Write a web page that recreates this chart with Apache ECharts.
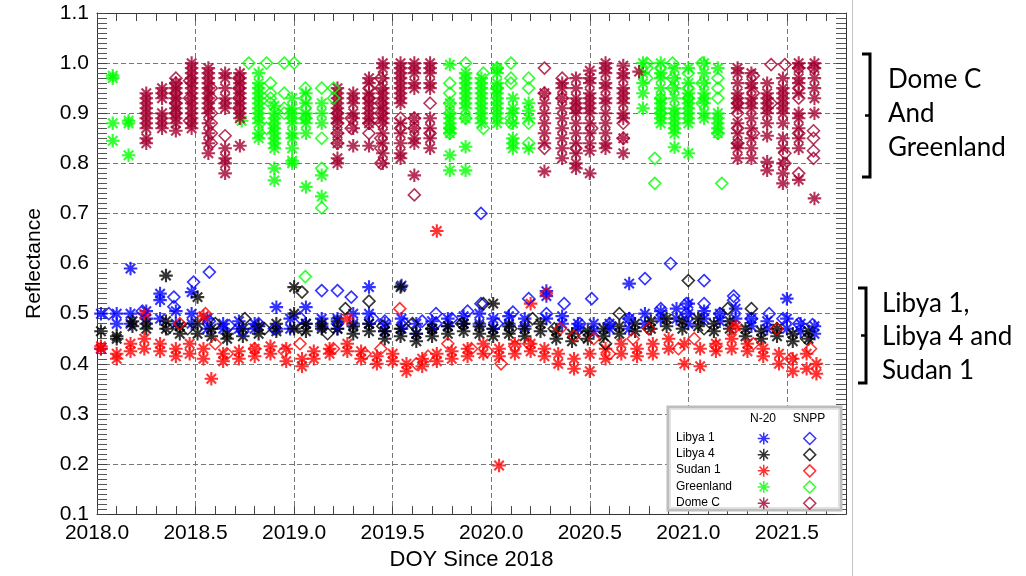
<!DOCTYPE html>
<html>
<head>
<meta charset="utf-8">
<script src="https://cdn.jsdelivr.net/npm/echarts@6/dist/echarts.min.js"></script>
<style>
  html, body { margin: 0; padding: 0; background: #ffffff; }
  #chart { width: 1026px; height: 576px; }
</style>
</head>
<body>
<div id="chart"></div>
<script>
// Each row: [year, reflectance, reflectance, ...] – one column of observations per date.

// ---- Libya 1 ----
const libya1N20 = [
  [2018.02, 0.43, 0.50], [2018.10, 0.50, 0.48], [2018.17, 0.59, 0.48, 0.50], [2018.25, 0.505, 0.49],
  [2018.32, 0.54, 0.527, 0.49], [2018.40, 0.505, 0.48], [2018.48, 0.543, 0.50, 0.48], [2018.56, 0.49, 0.47],
  [2018.64, 0.48, 0.47], [2018.72, 0.485, 0.47], [2018.80, 0.48, 0.47], [2018.91, 0.513, 0.47],
  [2018.98, 0.49, 0.47], [2019.06, 0.513, 0.48], [2019.14, 0.49, 0.475], [2019.22, 0.49, 0.47],
  [2019.30, 0.50, 0.48], [2019.38, 0.553, 0.50, 0.48], [2019.46, 0.48, 0.465], [2019.545, 0.556, 0.49, 0.47],
  [2019.62, 0.48, 0.46], [2019.70, 0.485, 0.47], [2019.78, 0.49, 0.475], [2019.86, 0.495, 0.48],
  [2019.94, 0.50, 0.48], [2020.01, 0.49, 0.47], [2020.09, 0.495, 0.48], [2020.17, 0.49, 0.475],
  [2020.28, 0.545, 0.535, 0.49], [2020.36, 0.495, 0.48], [2020.44, 0.48, 0.47], [2020.52, 0.48, 0.465],
  [2020.60, 0.48, 0.47], [2020.70, 0.56, 0.49, 0.47], [2020.78, 0.50, 0.48], [2020.86, 0.505, 0.49],
  [2020.94, 0.51, 0.49], [2021.00, 0.52, 0.50, 0.48], [2021.08, 0.505, 0.49], [2021.16, 0.50, 0.485],
  [2021.24, 0.51, 0.49], [2021.32, 0.49, 0.475], [2021.40, 0.485, 0.47], [2021.50, 0.53, 0.49, 0.47],
  [2021.57, 0.48, 0.465], [2021.64, 0.475, 0.46]
];
const libya1SNPP = [
  [2018.06, 0.50], [2018.23, 0.505], [2018.39, 0.533, 0.514], [2018.49, 0.563], [2018.57, 0.583, 0.485],
  [2018.67, 0.476], [2018.74, 0.465], [2018.82, 0.48], [2018.90, 0.47], [2019.03, 0.492],
  [2019.14, 0.546], [2019.22, 0.546, 0.48], [2019.29, 0.533], [2019.40, 0.49], [2019.46, 0.485],
  [2019.56, 0.48], [2019.65, 0.485], [2019.72, 0.50, 0.48], [2019.80, 0.49], [2019.88, 0.505],
  [2019.948, 0.52, 0.70], [2020.03, 0.48], [2020.11, 0.503], [2020.19, 0.53], [2020.28, 0.50],
  [2020.37, 0.52], [2020.45, 0.48], [2020.51, 0.53], [2020.60, 0.48], [2020.70, 0.49],
  [2020.78, 0.57], [2020.86, 0.51], [2020.91, 0.60], [2020.99, 0.52, 0.50], [2021.08, 0.566, 0.52],
  [2021.16, 0.50], [2021.23, 0.527, 0.535], [2021.32, 0.49], [2021.41, 0.50], [2021.48, 0.49],
  [2021.56, 0.48], [2021.63, 0.478]
];

// ---- Libya 4 ----
const libya4N20 = [
  [2018.02, 0.465], [2018.10, 0.455, 0.45], [2018.18, 0.475, 0.485], [2018.25, 0.48, 0.47],
  [2018.35, 0.576, 0.485, 0.47], [2018.42, 0.475, 0.46], [2018.51, 0.533, 0.48, 0.46], [2018.58, 0.47, 0.455],
  [2018.66, 0.46, 0.45], [2018.74, 0.47, 0.455], [2018.82, 0.475, 0.46], [2018.91, 0.48, 0.465],
  [2019.00, 0.553, 0.50, 0.47], [2019.06, 0.48, 0.465], [2019.14, 0.48, 0.47], [2019.22, 0.485, 0.47],
  [2019.30, 0.475, 0.46], [2019.38, 0.48, 0.465], [2019.46, 0.465, 0.45], [2019.54, 0.553, 0.47, 0.455],
  [2019.62, 0.46, 0.445], [2019.70, 0.47, 0.455], [2019.78, 0.475, 0.46], [2019.86, 0.48, 0.465],
  [2019.94, 0.475, 0.46], [2020.01, 0.52, 0.47, 0.455], [2020.09, 0.475, 0.46], [2020.17, 0.47, 0.455],
  [2020.25, 0.48, 0.465], [2020.33, 0.465, 0.45], [2020.41, 0.46, 0.445], [2020.49, 0.465, 0.45],
  [2020.57, 0.47, 0.455], [2020.65, 0.475, 0.46], [2020.73, 0.48, 0.465], [2020.81, 0.485, 0.47],
  [2020.89, 0.49, 0.475], [2020.97, 0.485, 0.47], [2021.05, 0.49, 0.475], [2021.13, 0.48, 0.465],
  [2021.21, 0.485, 0.47], [2021.29, 0.47, 0.455], [2021.37, 0.465, 0.45], [2021.45, 0.47, 0.455],
  [2021.53, 0.46, 0.445], [2021.61, 0.465, 0.45]
];
const libya4SNPP = [
  [2018.36, 0.47], [2018.46, 0.47], [2018.60, 0.48], [2018.75, 0.49], [2018.85, 0.47],
  [2019.04, 0.543, 0.47], [2019.17, 0.46], [2019.26, 0.51], [2019.38, 0.525], [2019.45, 0.475],
  [2019.60, 0.48], [2019.70, 0.47], [2019.85, 0.48], [2019.96, 0.52], [2020.10, 0.47],
  [2020.21, 0.49], [2020.32, 0.47], [2020.47, 0.455], [2020.58, 0.44], [2020.65, 0.50],
  [2020.80, 0.47], [2021.00, 0.566], [2021.08, 0.47], [2021.20, 0.51], [2021.32, 0.51],
  [2021.45, 0.47], [2021.60, 0.45]
];

// ---- Sudan 1 ----
const sudan1N20 = [
  [2018.02, 0.435, 0.43], [2018.10, 0.42, 0.41], [2018.17, 0.44, 0.425], [2018.24, 0.50, 0.45, 0.43],
  [2018.32, 0.44, 0.425], [2018.40, 0.43, 0.415], [2018.47, 0.44, 0.42], [2018.54, 0.495, 0.43, 0.41],
  [2018.58, 0.37], [2018.64, 0.42, 0.405], [2018.72, 0.425, 0.41], [2018.80, 0.43, 0.415],
  [2018.88, 0.435, 0.42], [2018.96, 0.43, 0.405], [2019.04, 0.41, 0.395], [2019.10, 0.425, 0.41],
  [2019.18, 0.43, 0.42], [2019.27, 0.49, 0.44, 0.425], [2019.34, 0.425, 0.41], [2019.42, 0.415, 0.40],
  [2019.50, 0.42, 0.405], [2019.57, 0.40, 0.385], [2019.65, 0.41, 0.395], [2019.724, 0.665, 0.42, 0.405],
  [2019.80, 0.425, 0.41], [2019.88, 0.43, 0.415], [2019.96, 0.44, 0.42], [2020.04, 0.197, 0.43, 0.415],
  [2020.12, 0.44, 0.42], [2020.20, 0.52, 0.44, 0.425], [2020.27, 0.43, 0.415], [2020.34, 0.42, 0.40],
  [2020.42, 0.41, 0.39], [2020.50, 0.42, 0.385], [2020.58, 0.43, 0.41], [2020.66, 0.44, 0.42],
  [2020.74, 0.43, 0.415], [2020.82, 0.44, 0.42], [2020.90, 0.45, 0.43], [2020.98, 0.44, 0.40],
  [2021.06, 0.43, 0.395], [2021.14, 0.44, 0.425], [2021.22, 0.45, 0.43], [2021.24, 0.475],
  [2021.30, 0.44, 0.425], [2021.38, 0.43, 0.415], [2021.46, 0.42, 0.40], [2021.53, 0.41, 0.385],
  [2021.60, 0.42, 0.39], [2021.65, 0.40, 0.38]
];
const sudan1SNPP = [
  [2018.42, 0.48], [2018.55, 0.50], [2018.60, 0.44], [2018.66, 0.42], [2018.80, 0.43],
  [2018.95, 0.425], [2019.03, 0.44], [2019.20, 0.43], [2019.36, 0.42], [2019.44, 0.43],
  [2019.536, 0.51], [2019.62, 0.40], [2019.68, 0.415], [2019.78, 0.44], [2019.90, 0.43],
  [2019.98, 0.425], [2020.05, 0.40], [2020.12, 0.435], [2020.19, 0.44], [2020.28, 0.54],
  [2020.35, 0.47], [2020.42, 0.455], [2020.52, 0.45], [2020.60, 0.42], [2020.72, 0.45],
  [2020.80, 0.47], [2020.95, 0.43], [2021.03, 0.45], [2021.14, 0.435], [2021.23, 0.47],
  [2021.33, 0.44], [2021.45, 0.47], [2021.52, 0.41], [2021.62, 0.43]
];

// ---- Greenland ----
const greenlandN20 = [
  [2018.08, 0.97, 0.975, 0.88, 0.845], [2018.16, 0.885, 0.88, 0.816], [2018.734, 0.885],
  [2018.82, 0.98, 0.96, 0.95, 0.94, 0.93, 0.92, 0.91, 0.90, 0.89, 0.88, 0.86, 0.85],
  [2018.90, 0.915, 0.90, 0.89, 0.88, 0.87, 0.86, 0.85, 0.84, 0.83, 0.79, 0.766],
  [2018.99, 0.93, 0.91, 0.90, 0.89, 0.88, 0.86, 0.85, 0.83, 0.805, 0.80],
  [2019.06, 0.94, 0.92, 0.90, 0.89, 0.88, 0.86, 0.753],
  [2019.14, 0.92, 0.90, 0.88, 0.776, 0.734],
  [2019.79, 0.997, 0.92, 0.90, 0.89, 0.88, 0.87, 0.86, 0.816, 0.786],
  [2019.87, 0.98, 0.97, 0.96, 0.95, 0.94, 0.93, 0.92, 0.91, 0.89, 0.833, 0.786],
  [2019.95, 0.97, 0.96, 0.95, 0.94, 0.93, 0.92, 0.91, 0.90, 0.89, 0.88],
  [2020.03, 0.99, 0.98, 0.96, 0.95, 0.94, 0.93, 0.92, 0.91, 0.90, 0.89, 0.88],
  [2020.11, 0.93, 0.91, 0.90, 0.88, 0.85, 0.84, 0.83],
  [2020.19, 0.92, 0.905, 0.89, 0.83],
  [2020.77, 1.0, 0.98, 0.96, 0.94, 0.91],
  [2020.86, 1.0, 0.98, 0.97, 0.95, 0.93, 0.92, 0.91, 0.90, 0.89, 0.88],
  [2020.93, 0.99, 0.97, 0.95, 0.93, 0.91, 0.90, 0.89, 0.88, 0.87, 0.86, 0.832],
  [2021.00, 0.99, 0.96, 0.94, 0.93, 0.92, 0.91, 0.90, 0.89, 0.88, 0.82],
  [2021.08, 1.0, 0.98, 0.96, 0.94, 0.93, 0.92, 0.90, 0.89],
  [2021.15, 0.99, 0.90, 0.89, 0.88, 0.87, 0.86]
];
const greenlandSNPP = [
  [2018.77, 1.0], [2018.86, 1.0, 0.87], [2018.88, 0.96, 0.94, 0.93, 0.92], [2018.95, 1.0, 0.94, 0.91, 0.90],
  [2019.00, 1.0], [2019.057, 0.95, 0.93, 0.91, 0.89, 0.574], [2019.14, 0.95, 0.85, 0.79, 0.711],
  [2019.20, 0.95, 0.93], [2019.79, 0.96, 0.94, 0.92, 0.90, 0.87, 0.86], [2019.87, 1.0, 0.89],
  [2019.96, 0.98, 0.87], [2020.03, 0.99, 0.95], [2020.10, 1.0, 0.97, 0.96, 0.89, 0.88],
  [2020.19, 0.97, 0.95, 0.88, 0.84], [2020.83, 0.81, 0.76], [2020.79, 1.0, 0.99, 0.97],
  [2020.86, 0.99, 0.93, 0.90], [2020.92, 1.0, 0.97, 0.95], [2021.00, 0.98, 0.95, 0.93],
  [2021.07, 1.0, 0.96, 0.92], [2021.15, 0.97, 0.95, 0.93, 0.86], [2021.17, 0.76]
];

// ---- Dome C ----
const domeCN20 = [
  [2018.25, 0.94, 0.93, 0.92, 0.91, 0.90, 0.89, 0.88, 0.87, 0.85, 0.84],
  [2018.33, 0.95, 0.94, 0.93, 0.90, 0.89, 0.88, 0.87],
  [2018.40, 0.96, 0.95, 0.94, 0.93, 0.92, 0.91, 0.90, 0.89, 0.88, 0.865],
  [2018.48, 1.0, 0.99, 0.98, 0.97, 0.96, 0.95, 0.94, 0.93, 0.92, 0.91, 0.90, 0.89, 0.88, 0.87],
  [2018.565, 0.99, 0.98, 0.97, 0.96, 0.95, 0.94, 0.93, 0.92, 0.91, 0.90, 0.88, 0.86, 0.84, 0.82],
  [2018.65, 0.98, 0.97, 0.95, 0.93, 0.92, 0.91, 0.83, 0.81, 0.80, 0.78],
  [2018.725, 0.98, 0.97, 0.96, 0.95, 0.94, 0.93, 0.92, 0.91, 0.90, 0.89, 0.835],
  [2019.22, 0.95, 0.94, 0.93, 0.92, 0.91, 0.90, 0.89, 0.88, 0.86, 0.84, 0.81, 0.80],
  [2019.30, 0.94, 0.93, 0.92, 0.90, 0.89, 0.87, 0.835],
  [2019.38, 0.97, 0.96, 0.94, 0.93, 0.92, 0.91, 0.90, 0.89, 0.88, 0.835],
  [2019.45, 1.0, 0.99, 0.97, 0.95, 0.94, 0.93, 0.92, 0.91, 0.90, 0.89, 0.88, 0.86, 0.84, 0.82, 0.80],
  [2019.54, 1.0, 0.99, 0.98, 0.97, 0.96, 0.95, 0.94, 0.93, 0.92, 0.88, 0.86, 0.84, 0.82, 0.81],
  [2019.61, 1.0, 0.99, 0.98, 0.96, 0.95, 0.89, 0.87, 0.85, 0.84, 0.776],
  [2019.69, 1.0, 0.99, 0.98, 0.96, 0.95, 0.89, 0.87, 0.85, 0.83],
  [2020.27, 0.94, 0.92, 0.90, 0.88, 0.86, 0.84, 0.784],
  [2020.36, 0.96, 0.95, 0.93, 0.91, 0.89, 0.87, 0.85, 0.83, 0.81],
  [2020.43, 0.97, 0.95, 0.93, 0.92, 0.91, 0.90, 0.88, 0.86, 0.84, 0.82, 0.80, 0.79],
  [2020.50, 0.985, 0.97, 0.96, 0.94, 0.93, 0.92, 0.91, 0.90, 0.88, 0.86, 0.84, 0.825, 0.78],
  [2020.58, 1.0, 0.99, 0.98, 0.96, 0.95, 0.93, 0.92, 0.90, 0.88, 0.86, 0.84, 0.83],
  [2020.67, 0.995, 0.98, 0.97, 0.95, 0.94, 0.93, 0.92, 0.90, 0.89, 0.85, 0.82],
  [2020.75, 0.983],
  [2021.25, 0.99, 0.98, 0.96, 0.94, 0.93, 0.92, 0.91, 0.88, 0.86, 0.84, 0.83, 0.81],
  [2021.32, 0.98, 0.96, 0.95, 0.93, 0.92, 0.91, 0.89, 0.87, 0.85, 0.83, 0.81],
  [2021.40, 0.96, 0.94, 0.93, 0.92, 0.91, 0.90, 0.88, 0.855, 0.803, 0.786],
  [2021.48, 0.97, 0.95, 0.94, 0.93, 0.92, 0.91, 0.90, 0.88, 0.85, 0.83, 0.80, 0.78, 0.76],
  [2021.56, 1.0, 0.99, 0.97, 0.96, 0.94, 0.90, 0.89, 0.87, 0.85, 0.83, 0.767],
  [2021.64, 1.0, 0.99, 0.97, 0.95, 0.93, 0.90, 0.73]
];
const domeCSNPP = [
  [2018.40, 0.97, 0.96, 0.94, 0.92, 0.90], [2018.47, 0.965, 0.93, 0.885],
  [2018.58, 0.95, 0.93, 0.90, 0.88, 0.86, 0.84], [2018.65, 0.855], [2018.72, 0.97, 0.95, 0.93, 0.91],
  [2019.22, 0.90, 0.88, 0.86, 0.84], [2019.29, 0.89, 0.87], [2019.38, 0.95, 0.93, 0.88, 0.86],
  [2019.44, 0.97, 0.95, 0.92, 0.90, 0.88, 0.85, 0.83, 0.80], [2019.54, 0.89, 0.87],
  [2019.61, 0.89, 0.87, 0.737], [2019.69, 0.92, 0.86], [2020.27, 0.99, 0.94, 0.83],
  [2020.36, 0.97, 0.93], [2020.43, 0.91, 0.83], [2020.51, 0.87], [2020.67, 0.88, 0.85],
  [2021.25, 0.92, 0.90, 0.87, 0.84], [2021.33, 0.975, 0.94, 0.86], [2021.42, 0.997, 0.92],
  [2021.49, 0.997, 0.82, 0.80], [2021.56, 0.99, 0.95, 0.93, 0.86, 0.78],
  [2021.635, 0.99, 0.865, 0.85, 0.825, 0.81]
];

const sites = ['Libya 1', 'Libya 4', 'Sudan 1', 'Greenland', 'Dome C'];
const n20Data = [libya1N20, libya4N20, sudan1N20, greenlandN20, domeCN20];
const snppData = [libya1SNPP, libya4SNPP, sudan1SNPP, greenlandSNPP, domeCSNPP];
const instruments = ['N-20', 'SNPP'];
const xAxisName = 'DOY Since 2018';
const yAxisName = 'Reflectance';
const noteUpper = ['Dome C', 'And', 'Greenland'];
const noteLower = ['Libya 1,', 'Libya 4 and', 'Sudan 1'];

// ---- styling ----
const siteColors = ['#0000ff', '#000000', '#ff0000', '#00ff00', '#a2002f'];
const STAR = 'path://M0,5L10,5M5,0L5,10M1.5,1.5L8.5,8.5M8.5,1.5L1.5,8.5';
const HOLLOW = 'rgba(0,0,0,0)';
const AXIS_FONT = '"Liberation Sans", Arial, sans-serif';
const NOTE_FONT = 'Lato, "Open Sans", sans-serif';

const toPoints = rows => rows.flatMap(([x, ...ys]) => ys.map(y => [x, y]));

const series = [];
sites.forEach((site, i) => {
  series.push({
    name: site + ' ' + instruments[0], type: 'scatter', xAxisIndex: 0, yAxisIndex: 0,
    symbol: STAR, symbolSize: 13.5, data: toPoints(n20Data[i]),
    itemStyle: { color: HOLLOW, borderColor: siteColors[i], borderWidth: 2.1 },
    emphasis: { disabled: true }, animation: false
  });
});
sites.forEach((site, i) => {
  series.push({
    name: site + ' ' + instruments[1], type: 'scatter', xAxisIndex: 0, yAxisIndex: 0,
    symbol: 'diamond', symbolSize: 12, data: toPoints(snppData[i]),
    itemStyle: { color: HOLLOW, borderColor: siteColors[i], borderWidth: 1.6 },
    emphasis: { disabled: true }, animation: false
  });
});

const isHalf = v => Math.abs(v * 2 - Math.round(v * 2)) < 1e-6;
const axisLineStyle = { color: '#333333', width: 1 };
const tickStyle = { color: '#444444', width: 1 };

// one legend component per key so every row sits exactly on its label
const legendRow = (k, col) => ({
  orient: 'vertical', left: col === 0 ? 757 : 803, top: 431.7 + k * 16.2,
  itemWidth: 12, itemHeight: 12, padding: 0, z: 200, selectedMode: false,
  formatter: () => '', textStyle: { fontSize: 8 },
  data: [{
    name: sites[k] + ' ' + instruments[col], icon: col === 0 ? STAR : 'diamond',
    itemStyle: { color: HOLLOW, borderColor: siteColors[k], borderWidth: 1.5 }
  }]
});
const legends = [];
sites.forEach((s, k) => { legends.push(legendRow(k, 0), legendRow(k, 1)); });

const bracket = (x, y0, y1, ym) => ([
  { type: 'polyline', z: 50, shape: { points: [[x - 8, y0], [x, y0], [x, y1], [x - 8, y1]] },
    style: { stroke: '#000', lineWidth: 3, fill: null } },
  { type: 'line', z: 50, shape: { x1: x - 5, y1: ym, x2: x, y2: ym },
    style: { stroke: '#000', lineWidth: 2.5 } }
]);

const noteText = (lines, x, ys) => lines.map((t, k) => ({
  type: 'text', z: 50, x: x, y: ys[k],
  style: { text: t, fill: '#000', font: '26px ' + NOTE_FONT, verticalAlign: 'middle', align: 'left' }
}));

const chart = echarts.init(document.getElementById('chart'), null, { renderer: 'canvas' });
chart.setOption({
  animation: false,
  backgroundColor: '#ffffff',
  grid: { left: 97, right: 180, top: 13, bottom: 55.5, containLabel: false },
  xAxis: [
    {
      type: 'value', min: 2018, max: 2021.8, interval: 0.1, position: 'bottom',
      name: xAxisName, nameLocation: 'middle', nameGap: 33,
      nameTextStyle: { fontFamily: AXIS_FONT, fontSize: 22, color: '#000' },
      axisLine: { show: true, onZero: false, lineStyle: axisLineStyle },
      axisTick: { show: true, inside: true, length: 8, lineStyle: tickStyle },
      axisLabel: {
        fontFamily: AXIS_FONT, fontSize: 21, color: '#000', margin: 9,
        formatter: v => isHalf(v) && v < 2021.75 ? v.toFixed(1) : '', showMaxLabel: false
      },
      splitLine: { show: false }
    },
    {
      type: 'value', min: 2018, max: 2021.8, interval: 0.1, position: 'top',
      axisLine: { show: true, onZero: false, lineStyle: axisLineStyle },
      axisTick: { show: true, inside: true, length: 8, lineStyle: tickStyle },
      axisLabel: { show: false }, splitLine: { show: false }
    },
    {
      type: 'value', min: 2018, max: 2021.8, interval: 0.5, position: 'bottom',
      axisLine: { show: false }, axisTick: { show: false }, axisLabel: { show: false },
      splitLine: { show: true, lineStyle: { color: '#777777', width: 1, type: [5, 3] } }
    }
  ],
  yAxis: [
    {
      type: 'value', min: 0.1, max: 1.1, interval: 0.1, position: 'left',
      name: yAxisName, nameLocation: 'middle', nameGap: 52, nameRotate: 90,
      nameTextStyle: { fontFamily: AXIS_FONT, fontSize: 21, color: '#000' },
      axisLine: { show: true, onZero: false, lineStyle: axisLineStyle },
      axisTick: { show: true, inside: true, length: 10, lineStyle: tickStyle },
      minorTick: { show: true, splitNumber: 10, length: 10, lineStyle: { color: '#555555', width: 1 } },
      axisLabel: { fontFamily: AXIS_FONT, fontSize: 21, color: '#000', margin: 8, formatter: v => v.toFixed(1) },
      splitLine: { show: true, lineStyle: { color: '#777777', width: 1, type: [5, 3] } }
    },
    {
      type: 'value', min: 0.1, max: 1.1, interval: 0.1, position: 'right',
      axisLine: { show: true, onZero: false, lineStyle: axisLineStyle },
      axisTick: { show: true, inside: true, length: 10, lineStyle: tickStyle },
      minorTick: { show: true, splitNumber: 10, length: 10, lineStyle: { color: '#555555', width: 1 } },
      axisLabel: { show: false }, splitLine: { show: false }
    }
  ],
  legend: legends,
  graphic: [
    // page edge to the right of the plot
    { type: 'line', z: 10, shape: { x1: 852.5, y1: 0, x2: 852.5, y2: 576 },
      style: { stroke: '#c4c4c4', lineWidth: 1 } },
    // legend panel
    { type: 'rect', z: 150, shape: { x: 668, y: 407, width: 173, height: 103 },
      style: { fill: '#ffffff', stroke: '#bdbdbd', lineWidth: 3 } },
    { type: 'rect', z: 151, shape: { x: 670.5, y: 409.5, width: 168, height: 98 },
      style: { fill: null, stroke: '#e2e2e2', lineWidth: 1 } },
    { type: 'text', z: 160, x: 763, y: 419,
      style: { text: instruments[0], font: '12px ' + AXIS_FONT, fill: '#000', align: 'center', verticalAlign: 'middle' } },
    { type: 'text', z: 160, x: 809, y: 419,
      style: { text: instruments[1], font: '12px ' + AXIS_FONT, fill: '#000', align: 'center', verticalAlign: 'middle' } },
    ...sites.map((s, k) => ({
      type: 'text', z: 160, x: 676, y: 437.7 + k * 16.2,
      style: { text: s, font: '12px ' + AXIS_FONT, fill: '#000', align: 'left', verticalAlign: 'middle' }
    })),
    // side notes with brackets
    ...bracket(870, 54, 177, 115.5),
    ...noteText(noteUpper, 888, [80, 114, 148]),
    ...bracket(866, 288, 383, 335.5),
    ...noteText(noteLower, 882, [304, 337, 371])
  ],
  series: series
});
</script>
</body>
</html>
